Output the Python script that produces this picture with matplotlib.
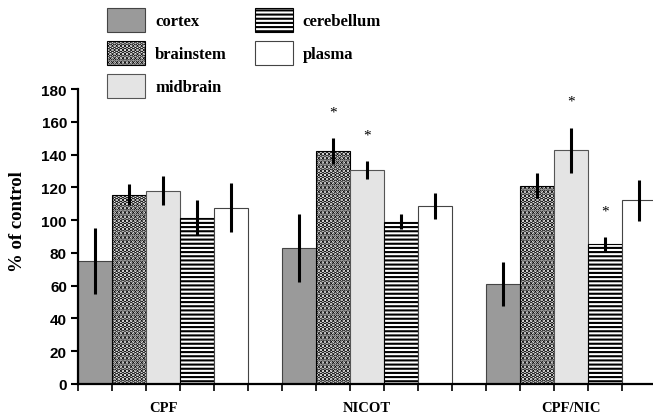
import numpy as np
import matplotlib
matplotlib.use("Agg")
import matplotlib.pyplot as plt

groups = ["CPF", "NICOT", "CPF/NIC"]
tissues = ["cortex", "brainstem", "midbrain", "cerebellum", "plasma"]

cortex = [75, 83, 61]
brainstem = [115.5, 142, 121]
midbrain = [118, 130.5, 142.5]
cerebellum = [101.5, 99, 85.5]
plasma = [107.5, 108.5, 112]

cortex_err = [20, 21, 13.5]
brainstem_err = [6.5, 8, 7.6]
midbrain_err = [9, 5.5, 14]
cerebellum_err = [10.5, 4.7, 4.2]
plasma_err = [15, 8, 12.3]

# significance stars: (group, tissue)
stars = [("NICOT", "brainstem"), ("NICOT", "midbrain"),
         ("CPF/NIC", "midbrain"), ("CPF/NIC", "cerebellum")]

means = [cortex, brainstem, midbrain, cerebellum, plasma]
errs = [cortex_err, brainstem_err, midbrain_err, cerebellum_err, plasma_err]

serif = "Liberation Serif"
sans = "Liberation Sans"

styles = [
    dict(color="#9a9a9a", edgecolor="#444444", hatch=None),
    dict(color="white", edgecolor="black", hatch="...."),
    dict(color="#e4e4e4", edgecolor="#555555", hatch=None),
    dict(color="white", edgecolor="black", hatch="----"),
    dict(color="white", edgecolor="#444444", hatch=None),
]
hatch_lw = [1.0, 2.4, 1.0, 1.5, 1.0]

fig = plt.figure(figsize=(6.53, 4.14), dpi=100)
ax = fig.add_axes([78 / 653, 29 / 414, 1 - 78 / 653, 295 / 414])

group_start = np.arange(len(groups)) * 6
handles = []
for i, (name, vals, e, st) in enumerate(zip(tissues, means, errs, styles)):
    plt.rcParams["hatch.linewidth"] = hatch_lw[i]
    x = group_start + i + 0.5
    b = ax.bar(x, vals, width=1.0, linewidth=0.8, label=name,
               yerr=e, error_kw=dict(ecolor="black", elinewidth=2.2, capsize=0),
               **st)
    handles.append(b)

for g, t in stars:
    gi = groups.index(g)
    ti = tissues.index(t)
    xs = group_start[gi] + ti + 0.5
    ys = means[ti][gi] + errs[ti][gi] + 14
    ax.text(xs, ys, "*", ha="center", va="baseline", fontsize=11,
            family=serif, clip_on=False)

ax.set_xlim(0, 16.91)
ax.set_ylim(0, 180)
ax.set_yticks(np.arange(0, 181, 20))
ax.set_xticks(group_start + 2.5)
ax.set_xticklabels(groups, family=serif, fontweight="bold", fontsize=10.5)
ax.set_xticks(np.arange(0, 17), minor=True)
ax.tick_params(axis="x", which="major", length=0, pad=12)
ax.tick_params(axis="x", which="minor", length=5, width=1.2, direction="out")
ax.tick_params(axis="y", length=5, width=1.5, pad=3)
for lab in ax.get_yticklabels():
    lab.set_family(sans)
    lab.set_fontweight("bold")
    lab.set_fontsize(11)

for s in ["top", "right"]:
    ax.spines[s].set_visible(False)
ax.spines["left"].set_linewidth(1.6)
ax.spines["bottom"].set_linewidth(1.6)

ax.set_ylabel("% of control", family=serif, fontweight="bold", fontsize=13.5)
ax.yaxis.set_label_coords(-0.09, 0.553)

leg = fig.legend(handles=handles, loc="upper left", ncol=2,
                 bbox_to_anchor=(107 / 653, 1 - 9 / 414), borderaxespad=0,
                 borderpad=0, frameon=False,
                 prop=dict(family=serif, weight="bold", size=12),
                 handlelength=2.28, handleheight=1.84, labelspacing=0.53,
                 handletextpad=0.6, columnspacing=1.68)
for p, lw in zip(leg.get_patches(), hatch_lw):
    p._hatch_linewidth = lw

plt.savefig("out.png", dpi=100)
